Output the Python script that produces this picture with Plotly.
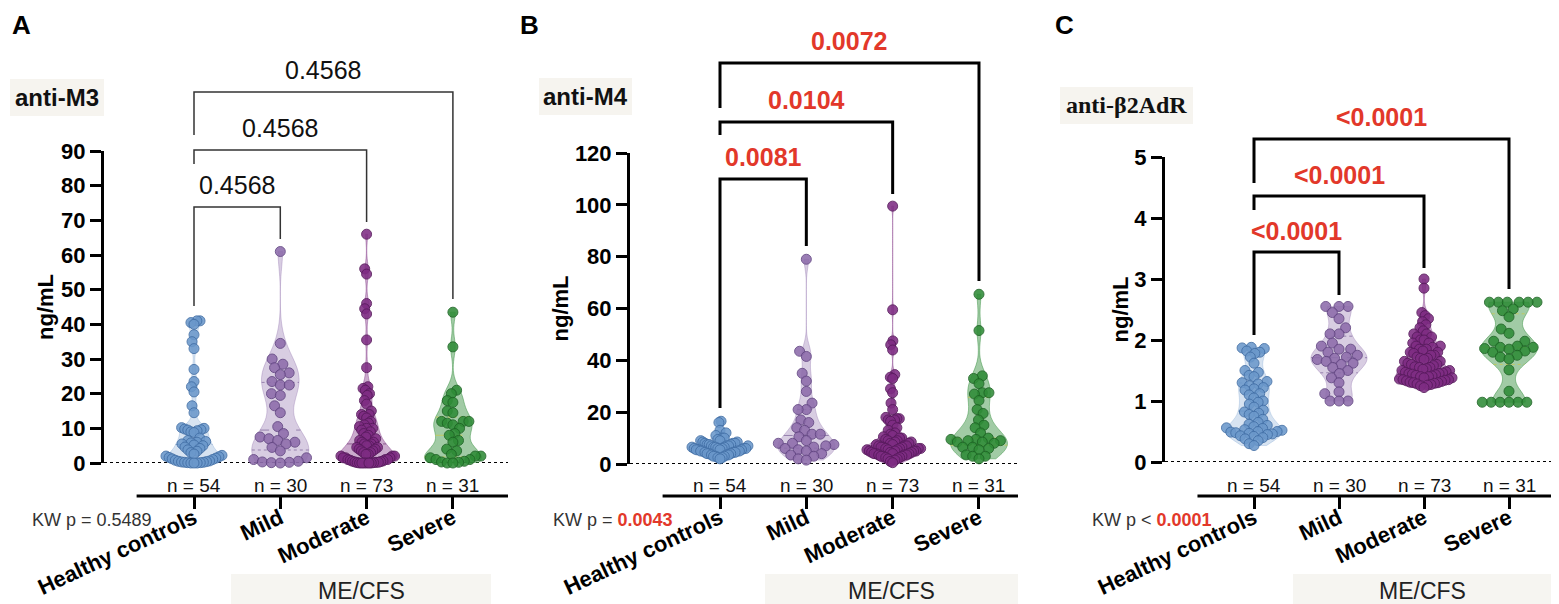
import numpy as np
import plotly.graph_objects as go

W, H = 1559, 604

CATEGORIES = ["Healthy controls", "Mild", "Moderate", "Severe"]
N_LABELS = ["n = 54", "n = 30", "n = 73", "n = 31"]

# anti-M3 (ng/mL)
m3_healthy = [41.0, 41.0, 40.5, 40.0, 37.0, 35.0, 33.0, 27.0, 23.5, 22.0, 20.5, 16.5, 14.5,
              10.2, 10.0, 9.8, 9.6, 9.5, 9.3, 9.0, 8.8, 7.2, 6.5, 6.2, 6.0, 5.8, 5.5, 5.2, 5.0,
              4.6, 4.2, 3.8, 3.4, 3.0, 2.6, 2.2, 2.0, 1.8, 1.6, 1.4, 1.2, 1.0, 0.8, 0.6, 0.5,
              0.4, 0.3, 0.2, 0.2, 0.1, 0.1, 0.0, 0.0, 0.0]
m3_mild = [61.0, 34.5, 30.0, 28.5, 27.5, 26.0, 25.5, 23.5, 22.5, 22.5, 20.0, 19.5, 16.5, 14.5,
           10.5, 8.5, 7.5, 7.0, 6.5, 6.0, 5.5, 4.5, 3.5, 1.5, 1.0, 0.5, 0.3, 0.2, 0.1, 0.0]
m3_moderate = [66.0, 56.0, 54.5, 46.0, 44.5, 43.0, 35.5, 27.5, 22.0, 21.5, 21.0, 20.0, 19.5,
               18.0, 17.0, 15.0, 14.0, 14.0, 13.5, 13.0, 12.0, 11.5, 11.0, 10.5, 10.0, 10.0,
               9.5, 9.0, 8.5, 8.0, 7.5, 7.0, 6.5, 6.0, 6.0, 5.5, 5.5, 5.0, 5.0, 4.5, 4.5, 4.0,
               4.0, 3.5, 3.5, 3.0, 3.0, 2.5, 2.5, 2.0, 2.0, 2.0, 1.5, 1.5, 1.5, 1.0, 1.0, 1.0,
               0.8, 0.6, 0.5, 0.4, 0.3, 0.2, 0.2, 0.1, 0.1, 0.0, 0.0, 0.0, 0.0, 0.0, 0.0]
m3_severe = [43.5, 33.5, 21.0, 20.0, 18.0, 17.5, 15.0, 14.5, 12.0, 12.0, 12.0, 11.5, 11.0, 10.0,
             8.5, 8.0, 6.5, 6.0, 4.0, 3.5, 2.5, 2.0, 2.0, 1.5, 1.0, 1.0, 0.5, 0.3, 0.2, 0.0, 0.0]

# anti-M4 (ng/mL)
m4_healthy = [16.5, 16.0, 13.0, 12.0, 11.0, 10.0, 10.0, 9.5, 9.0, 9.0, 8.5, 8.5, 8.0, 8.0, 8.0,
              7.5, 7.5, 7.5, 7.0, 7.0, 7.0, 7.0, 6.5, 6.5, 6.5, 6.5, 6.0, 6.0, 6.0, 6.0, 6.0,
              5.5, 5.5, 5.5, 5.5, 5.0, 5.0, 5.0, 5.0, 4.5, 4.5, 4.5, 4.0, 4.0, 4.0, 3.5, 3.5,
              3.5, 3.0, 3.0, 3.0, 2.5, 2.5, 2.0]
m4_mild = [79.0, 43.5, 41.5, 35.0, 32.0, 28.0, 23.5, 21.0, 21.0, 17.0, 16.0, 14.0, 13.0, 11.5,
           11.5, 10.5, 9.0, 8.0, 8.0, 7.5, 7.0, 6.5, 6.0, 5.5, 5.0, 4.0, 3.5, 3.0, 2.0, 1.5]
m4_moderate = [99.5, 59.5, 47.5, 46.0, 44.0, 34.5, 33.5, 33.0, 29.0, 27.5, 23.5, 21.0, 18.0,
               17.5, 17.5, 17.0, 17.0, 16.5, 15.0, 14.0, 13.0, 12.0, 11.5, 11.0, 10.5, 10.0,
               10.0, 9.5, 9.0, 9.0, 8.5, 8.5, 8.0, 8.0, 7.5, 7.5, 7.0, 7.0, 7.0, 6.5, 6.5, 6.5,
               6.0, 6.0, 6.0, 6.0, 5.5, 5.5, 5.5, 5.0, 5.0, 5.0, 5.0, 4.5, 4.5, 4.5, 4.0, 4.0,
               4.0, 4.0, 3.5, 3.5, 3.5, 3.0, 3.0, 3.0, 2.5, 2.5, 2.0, 2.0, 1.5, 1.0, 0.5]
m4_severe = [65.5, 51.5, 34.0, 33.0, 31.0, 27.5, 27.5, 27.0, 24.5, 21.0, 19.5, 17.0, 15.0, 14.0,
             12.0, 10.0, 9.5, 9.5, 9.0, 9.0, 8.5, 8.5, 8.0, 6.5, 6.5, 6.0, 5.5, 3.5, 3.0, 3.0, 2.0]

# anti-beta2AdR (ng/mL)
b2_healthy = [1.88, 1.87, 1.86, 1.82, 1.80, 1.78, 1.72, 1.62, 1.50, 1.47, 1.42, 1.40, 1.32, 1.30,
              1.28, 1.25, 1.22, 1.20, 1.18, 1.12, 1.10, 1.05, 1.00, 0.98, 0.95, 0.90, 0.85, 0.82,
              0.80, 0.78, 0.75, 0.70, 0.65, 0.62, 0.60, 0.58, 0.56, 0.55, 0.53, 0.52, 0.50, 0.50,
              0.49, 0.48, 0.47, 0.46, 0.45, 0.43, 0.42, 0.40, 0.38, 0.35, 0.30, 0.27]
b2_mild = [2.55, 2.55, 2.55, 2.45, 2.35, 2.20, 2.10, 2.10, 1.95, 1.90, 1.85, 1.85, 1.80, 1.75,
           1.72, 1.70, 1.68, 1.65, 1.62, 1.60, 1.55, 1.50, 1.45, 1.38, 1.30, 1.15, 1.12, 1.00,
           1.00, 1.00]
b2_moderate = [3.00, 2.85, 2.45, 2.40, 2.35, 2.30, 2.25, 2.20, 2.15, 2.10, 2.10, 2.05, 2.05, 2.00,
               2.00, 1.95, 1.95, 1.90, 1.90, 1.88, 1.85, 1.85, 1.82, 1.80, 1.80, 1.78, 1.75, 1.75,
               1.72, 1.70, 1.70, 1.68, 1.65, 1.65, 1.62, 1.60, 1.60, 1.58, 1.56, 1.55, 1.55, 1.53,
               1.52, 1.50, 1.50, 1.48, 1.47, 1.46, 1.45, 1.45, 1.44, 1.43, 1.42, 1.41, 1.40, 1.40,
               1.38, 1.38, 1.36, 1.35, 1.35, 1.34, 1.33, 1.32, 1.31, 1.30, 1.30, 1.29, 1.28, 1.27,
               1.26, 1.25, 1.22]
b2_severe = [2.62, 2.62, 2.62, 2.62, 2.62, 2.62, 2.51, 2.48, 2.38, 2.18, 2.11, 1.98, 1.98, 1.90,
             1.88, 1.88, 1.86, 1.85, 1.82, 1.80, 1.75, 1.72, 1.69, 1.51, 1.16, 0.98, 0.98, 0.98,
             0.98, 0.98, 0.98]

m3_pvals = ["0.4568", "0.4568", "0.4568"]
m4_pvals = ["0.0081", "0.0104", "0.0072"]
b2_pvals = ["<0.0001", "<0.0001", "<0.0001"]
kw_texts = [("=", "0.5489"), ("=", "0.0043"), ("<", "0.0001")]

MARKER = ["#6b98cb", "#8d6cab", "#7e2c83", "#2f8c37"]
EDGE = ["#426fa6", "#634683", "#571a5c", "#1d6424"]
VIOLIN = ["rgba(107,152,203,0.27)", "rgba(141,108,171,0.34)",
          "rgba(126,44,131,0.40)", "rgba(47,140,55,0.45)"]
QUART = ["rgba(66,111,166,0.55)", "rgba(99,70,131,0.55)",
         "rgba(87,26,92,0.55)", "rgba(200,200,80,0.8)"]
RED = "#e2382a"
SANS = "Liberation Sans, Arial, sans-serif"
SERIF = "Liberation Serif, Times New Roman, serif"
VW = 0.66  # violin width in category units


def px(x):
    return x / W


def py(y):
    return 1 - y / H


def swarm(values, ppu, d=9.0, max_half=28.0):
    # simple beeswarm: place points closest to centre without overlapping
    order = np.argsort(values)
    placed = []
    offs = np.zeros(len(values))
    for idx in order:
        y = values[idx] * ppu
        spans = []
        for xj, yj in placed:
            dy = abs(y - yj)
            if dy < d:
                w = np.sqrt(d * d - dy * dy)
                spans.append((xj - w, xj + w))
        cands = [0.0] + [a for a, b in spans] + [b for a, b in spans]
        cands.sort(key=abs)
        for c in cands:
            if all(not (a + 1e-6 < c < b - 1e-6) for a, b in spans):
                break
        offs[idx] = c
        placed.append((c, y))
    m = np.abs(offs).max()
    if m > max_half:
        offs = offs * max_half / m
    return offs


def bandwidth(values, adjust=0.7):
    # Silverman's rule, narrowed a bit to keep the Prism-like waists
    v = np.asarray(values)
    iqr = np.subtract(*np.percentile(v, [75, 25]))
    sig = min(v.std(ddof=1), iqr / 1.349) if iqr > 0 else v.std(ddof=1)
    return adjust * 0.9 * sig * len(v) ** -0.2


def half_width(values, bw, at):
    # half width of the drawn violin at a given level (same gaussian kde as plotly)
    v = np.asarray(values)
    dens = lambda y: np.exp(-0.5 * ((y - v) / bw) ** 2).sum()
    grid = np.linspace(v.min(), v.max(), 300)
    return VW / 2 * dens(at) / max(dens(g) for g in grid)


def note(x, y, text, size, xref="paper", xanchor="center", **kw):
    font = dict(family=kw.pop("family", SANS), size=size, color=kw.pop("color", "#111"),
                weight=kw.pop("weight", "normal"))
    return dict(x=x, y=y, xref=xref, yref="paper", text=text, showarrow=False,
                xanchor=xanchor, yanchor="middle", font=font, **kw)


panels = [
    dict(letter="A", letter_x=2, title="anti-M3", title_font=SANS, box=(2, 96, 71, 108),
         groups=[m3_healthy, m3_mild, m3_moderate, m3_severe], pvals=m3_pvals, sig=False,
         axis_x=96, first_x=186, step=86.3, right_x=500, y0=455, y1=143, ymax=90, dtick=10,
         brackets=[(1, 199, 298, 231, 177), (2, 142, 156, 214, 120), (3, 84, 127, 291, 62)],
         ytitle_x=38, kw_x=22, mecfs=(223, 483)),
    dict(letter="B", letter_x=510, title="anti-M4", title_font=SANS, box=(531, 624, 70, 107),
         groups=[m4_healthy, m4_mild, m4_moderate, m4_severe], pvals=m4_pvals, sig=True,
         axis_x=622, first_x=712, step=86.33, right_x=1010, y0=456, y1=145, ymax=120, dtick=20,
         brackets=[(1, 171, 400, 238, 149), (2, 114, 127, 186, 92), (3, 55, 100, 273, 33)],
         ytitle_x=552, kw_x=543, mecfs=(757, 1010)),
    dict(letter="C", letter_x=1045, title="anti-β2AdR", title_font=SERIF, box=(1052, 1185, 79, 116),
         groups=[b2_healthy, b2_mild, b2_moderate, b2_severe], pvals=b2_pvals, sig=True,
         axis_x=1157, first_x=1246, step=85.0, right_x=1557, y0=454, y1=149, ymax=5, dtick=1,
         brackets=[(1, 244, 327, 287, 223), (2, 188, 202, 260, 167), (3, 131, 175, 281, 109)],
         ytitle_x=1112, kw_x=1082, mecfs=(1285, 1543)),
]

fig = go.Figure()
shapes = []
annotations = []

for k, p in enumerate(panels):
    s = "" if k == 0 else str(k + 1)
    xref, yref = "x" + s, "y" + s
    ppu = (p["y0"] - p["y1"]) / p["ymax"]
    x_lo = (p["axis_x"] - p["first_x"]) / p["step"]
    x_hi = (p["right_x"] - p["first_x"]) / p["step"]

    for i, vals in enumerate(p["groups"]):
        vals = np.array(vals, dtype=float)
        bw = bandwidth(vals)
        fig.add_trace(go.Violin(
            x=[i] * len(vals), y=vals, xaxis=xref, yaxis=yref,
            points=False, spanmode="hard", scalemode="width", width=VW, bandwidth=bw,
            fillcolor=VIOLIN[i], line=dict(color=VIOLIN[i], width=1),
            hoverinfo="skip", showlegend=False,
        ))
        # Prism-style median / quartile lines inside the violin
        for q, dash in ((25, "dot"), (50, "dash"), (75, "dot")):
            lvl = np.percentile(vals, q)
            hw = half_width(vals, bw, lvl)
            fig.add_trace(go.Scatter(
                x=[i - hw, i + hw], y=[lvl, lvl], xaxis=xref, yaxis=yref, mode="lines",
                line=dict(color=QUART[i], width=1, dash=dash),
                hoverinfo="skip", showlegend=False,
            ))
        offs = swarm(vals, ppu) / p["step"]
        fig.add_trace(go.Scatter(
            x=i + offs, y=vals, xaxis=xref, yaxis=yref, mode="markers",
            cliponaxis=False, hoverinfo="skip", showlegend=False,
            marker=dict(size=10, color=MARKER[i], opacity=0.88,
                        line=dict(color=EDGE[i], width=1)),
        ))
        annotations.append(note(i, py(477), N_LABELS[i], 19, xref=xref))

    fig.update_layout(**{
        "xaxis" + s: dict(domain=[px(p["axis_x"]), px(p["right_x"])], range=[x_lo, x_hi],
                          anchor="free", position=py(488), automargin=False,
                          showline=False, showgrid=False, zeroline=False,
                          ticks="outside", ticklen=12, tickwidth=3, tickcolor="black",
                          tickvals=[0, 1, 2, 3], ticktext=CATEGORIES, tickangle=-25,
                          ticklabelstandoff=-12,
                          tickfont=dict(family=SANS, size=22, color="black", weight="bold")),
        "yaxis" + s: dict(domain=[py(p["y0"]), py(p["y1"])], range=[0, p["ymax"]],
                          anchor=xref, automargin=False,
                          showline=True, linewidth=3, linecolor="black",
                          ticks="outside", ticklen=11, tickwidth=3, tickcolor="black",
                          tickvals=list(range(0, p["ymax"] + 1, p["dtick"])),
                          showgrid=False, zeroline=False,
                          tickfont=dict(family=SANS, size=22, color="black", weight="bold")),
    })

    # zero dotted line and offset category axis line
    shapes.append(dict(type="line", xref=xref, yref=yref, x0=x_lo, x1=x_hi, y0=0, y1=0,
                       line=dict(color="black", width=2, dash="dot"), layer="below"))
    shapes.append(dict(type="line", xref=xref, yref="paper", x0=-0.665, x1=x_hi,
                       y0=py(488), y1=py(488), line=dict(color="black", width=3)))

    # comparison brackets vs healthy controls
    lw, lc = (3, "black") if p["sig"] else (1.5, "#333")
    for (j, top, left_b, right_b, lab), ptxt in zip(p["brackets"], p["pvals"]):
        shapes.append(dict(type="path", xref=xref, yref="paper",
                           path=f"M 0,{py(left_b)} L 0,{py(top)} L {j},{py(top)} L {j},{py(right_b)}",
                           line=dict(color=lc, width=lw)))
        annotations.append(note(j / 2, py(lab), ptxt, 25, xref=xref,
                                color=RED if p["sig"] else "#111",
                                weight="bold" if p["sig"] else "normal"))

    # panel letter, antibody label, y title, KW p, ME/CFS group box
    annotations.append(note(px(p["letter_x"]), py(17), p["letter"], 26, xanchor="left",
                            color="black", weight="bold"))
    b0, b1, t0, t1 = p["box"]
    shapes.append(dict(type="rect", xref="paper", yref="paper", x0=px(b0), x1=px(b1),
                       y0=py(t1), y1=py(t0), fillcolor="#f6f4ef", line=dict(width=0),
                       layer="below"))
    annotations.append(note(px((b0 + b1) / 2), py((t0 + t1) / 2), p["title"], 24,
                            family=p["title_font"], weight="bold"))
    annotations.append(note(px(p["ytitle_x"]), py((p["y0"] + p["y1"]) / 2), "ng/mL", 22,
                            color="black", weight="bold", textangle=-90))
    op, val = kw_texts[k]
    val_html = f"<b><span style='color:{RED}'>{val}</span></b>" if p["sig"] else val
    annotations.append(note(px(p["kw_x"]), py(512), f"KW p {op} {val_html}", 18,
                            xanchor="left", color="#333"))
    m0, m1 = p["mecfs"]
    shapes.append(dict(type="rect", xref="paper", yref="paper", x0=px(m0), x1=px(m1),
                       y0=py(601), y1=py(566), fillcolor="#f6f5f1", line=dict(width=0),
                       layer="below"))
    annotations.append(note(px((m0 + m1) / 2), py(583), "ME/CFS", 23, color="#222"))

fig.update_layout(
    width=W, height=H, autosize=False,
    margin=dict(l=0, r=0, t=0, b=0, autoexpand=False),
    paper_bgcolor="white", plot_bgcolor="rgba(0,0,0,0)",
    violinmode="overlay", showlegend=False,
    shapes=shapes, annotations=annotations,
    font=dict(family=SANS),
)

fig.write_html("out.html")
